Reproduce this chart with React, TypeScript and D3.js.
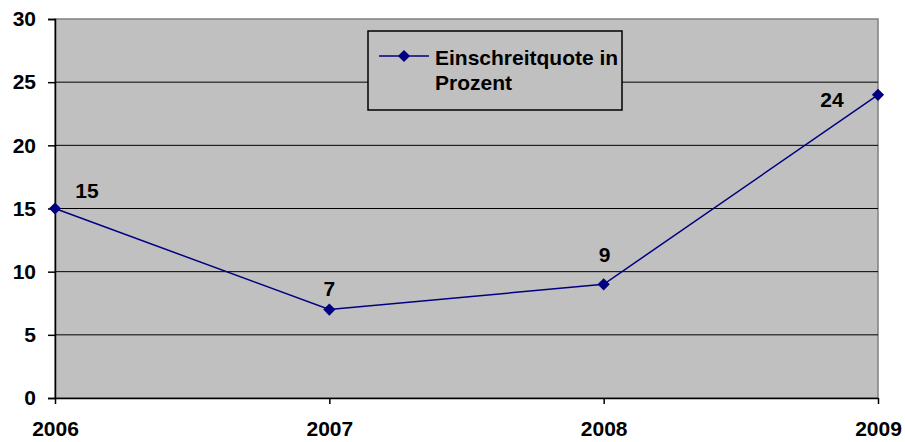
import { useEffect, useRef } from 'react';
import * as d3 from 'd3';

const years = ['2006', '2007', '2008', '2009'];
const quote = [15, 7, 9, 24];
const yTicks = [0, 5, 10, 15, 20, 25, 30];
const seriesName = ['Einschreitquote in', 'Prozent'];
// label offsets (dx, dy) relative to each point, as in the original
const labelOffsets: [number, number][] = [
  [32, -11],
  [0, -14],
  [1, -22],
  [-46, 12],
];

export default function App() {
  const ref = useRef<SVGSVGElement | null>(null);

  useEffect(() => {
    const W = 905;
    const H = 442;
    const margin = { top: 19, right: 27, bottom: 44, left: 55 };
    const width = W - margin.left - margin.right;
    const height = H - margin.top - margin.bottom;
    const font = "'Liberation Sans', Arial, sans-serif";
    const fs = '21px';

    const root = d3.select(ref.current);
    root.selectAll('*').remove();
    const svg = root
      .append('g')
      .attr('transform', `translate(${margin.left},${margin.top})`);

    const x = d3.scalePoint().domain(years).range([0, width]);
    const y = d3.scaleLinear().domain([0, 30]).range([height, 0]);

    // plot area
    svg
      .append('rect')
      .attr('x', 0)
      .attr('y', 0)
      .attr('width', width)
      .attr('height', height)
      .attr('fill', '#c0c0c0')
      .attr('stroke', '#808080')
      .attr('stroke-width', 1.5);

    // gridlines
    svg
      .selectAll('.grid')
      .data(yTicks.filter((t) => t > 0 && t < 30))
      .enter()
      .append('line')
      .attr('x1', 0)
      .attr('x2', width)
      .attr('y1', (d) => y(d))
      .attr('y2', (d) => y(d))
      .attr('stroke', '#000')
      .attr('stroke-width', 1);

    // y axis
    const yAxis = svg
      .append('g')
      .call(d3.axisLeft(y).tickValues(yTicks).tickSize(7).tickPadding(12));
    yAxis.select('.domain').attr('stroke', '#000').attr('stroke-width', 1.5);
    yAxis.selectAll('line').attr('stroke', '#000').attr('stroke-width', 1.5);
    yAxis
      .selectAll('text')
      .style('font-family', font)
      .style('font-size', fs)
      .style('font-weight', 'bold')
      .attr('fill', '#000');

    // x axis
    const xAxis = svg
      .append('g')
      .attr('transform', `translate(0,${height})`)
      .call(d3.axisBottom(x).tickSize(6).tickPadding(17).tickSizeOuter(0));
    xAxis.select('.domain').attr('stroke', '#000').attr('stroke-width', 1.5);
    xAxis.selectAll('line').attr('stroke', '#000').attr('stroke-width', 1.5);
    xAxis
      .selectAll('text')
      .style('font-family', font)
      .style('font-size', fs)
      .style('font-weight', 'bold')
      .attr('fill', '#000');

    // line
    const line = d3
      .line<number>()
      .x((_d, i) => x(years[i])!)
      .y((d) => y(d));
    svg
      .append('path')
      .datum(quote)
      .attr('d', line)
      .attr('fill', 'none')
      .attr('stroke', '#000080')
      .attr('stroke-width', 1.5);

    const diamond = d3.symbol().type(d3.symbolDiamond2).size(95);
    svg
      .selectAll('.pt')
      .data(quote)
      .enter()
      .append('path')
      .attr('d', diamond)
      .attr('transform', (d, i) => `translate(${x(years[i])},${y(d)})`)
      .attr('fill', '#000080');

    // data labels
    svg
      .selectAll('.lbl')
      .data(quote)
      .enter()
      .append('text')
      .attr('x', (_d, i) => x(years[i])! + labelOffsets[i][0])
      .attr('y', (d, i) => y(d) + labelOffsets[i][1])
      .attr('text-anchor', 'middle')
      .style('font-family', font)
      .style('font-size', fs)
      .style('font-weight', 'bold')
      .attr('fill', '#000')
      .text((d) => d);

    // legend
    const lg = svg.append('g').attr('transform', 'translate(313,12)');
    lg.append('rect')
      .attr('width', 254)
      .attr('height', 79)
      .attr('fill', '#c0c0c0')
      .attr('stroke', '#000')
      .attr('stroke-width', 1.5);
    lg.append('line')
      .attr('x1', 11)
      .attr('x2', 61)
      .attr('y1', 25)
      .attr('y2', 25)
      .attr('stroke', '#000080')
      .attr('stroke-width', 1.5);
    lg.append('path')
      .attr('d', diamond)
      .attr('transform', 'translate(36,25)')
      .attr('fill', '#000080');
    lg.selectAll('.lt')
      .data(seriesName)
      .enter()
      .append('text')
      .attr('x', 67)
      .attr('y', (_d, i) => 34 + i * 25)
      .style('font-family', font)
      .style('font-size', fs)
      .style('font-weight', 'bold')
      .attr('fill', '#000')
      .text((d) => d);
  }, []);

  return (
    <svg
      ref={ref}
      width={905}
      height={442}
      style={{ position: 'absolute', left: 0, top: 0, background: '#fff' }}
    />
  );
}
